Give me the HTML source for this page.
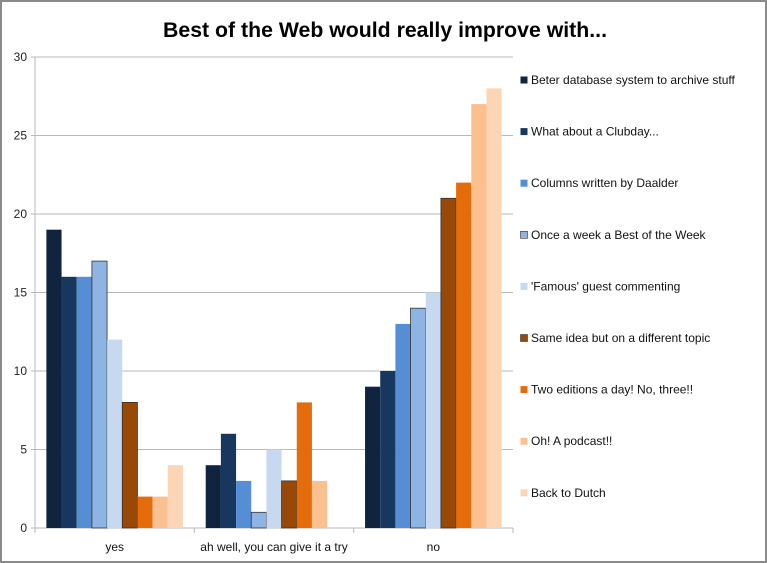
<!DOCTYPE html>
<html><head><meta charset="utf-8"><style>
html,body{margin:0;padding:0;background:#fff}
svg{display:block}
</style></head><body>
<svg id="c" width="767" height="563" xmlns="http://www.w3.org/2000/svg" font-family="Liberation Sans, sans-serif">
<rect x="1" y="1" width="765" height="561" fill="#fff" stroke="#8a8a8a" stroke-width="2"/>
<text x="385" y="37" text-anchor="middle" font-size="21" font-weight="bold" textLength="444" lengthAdjust="spacingAndGlyphs">Best of the Web would really improve with...</text>
<g id="grid"></g>
<g id="bars"></g>
<g id="leg"></g>
</svg>
<script>
var NS="http://www.w3.org/2000/svg";
function el(p,t,a,txt){var e=document.createElementNS(NS,t);for(var k in a)e.setAttribute(k,a[k]);if(txt!=null)e.textContent=txt;p.appendChild(e);return e;}
var g=document.getElementById('grid'),b=document.getElementById('bars'),l=document.getElementById('leg');
var x0=35,x1=513,y0=528,sc=15.7;
for(var v=0;v<=30;v+=5){var y=y0-v*sc;
 if(v>0)el(g,'line',{x1:x0-4,x2:x1,y1:y,y2:y,stroke:'#b8b8b8','stroke-width':1});
 el(g,'text',{x:27,y:y+4,'text-anchor':'end','font-size':12,fill:'#222'},String(v));}
el(g,'line',{x1:x0,x2:x0,y1:57,y2:y0,stroke:'#b8b8b8'});
el(g,'line',{x1:x0-4,x2:x1,y1:y0,y2:y0,stroke:'#b8b8b8'});
var gw=(x1-x0)/3;
for(var i=0;i<=3;i++)el(g,'line',{x1:x0+gw*i,x2:x0+gw*i,y1:y0,y2:y0+5,stroke:'#b8b8b8'});
var cats=['yes','ah well, you can give it a try','no'];
var data=[[19,16,16,17,12,8,2,2,4],[4,6,3,1,5,3,8,3,0],[9,10,13,14,15,21,22,27,28]];
var cols=['#10243f','#17375e','#558ed5','#8eb4e3','#c6d9f1','#984807','#e46c0a','#fac090','#fcd5b5'];
var names=['Beter database system to archive stuff','What about a Clubday...','Columns written by Daalder','Once a week a Best of the Week',"'Famous' guest commenting",'Same idea but on a different topic','Two editions a day! No, three!!','Oh! A podcast!!','Back to Dutch'];
var bw=gw/10.5;
for(var c=0;c<3;c++){
 var gx=x0+gw*c+bw*0.75;
 for(var s=0;s<9;s++){var v=data[c][s];if(!v)continue;var h=v*sc;
  var a={x:gx+s*bw,y:y0-h,width:bw,height:h,fill:cols[s]};
  if(s==3||s==5){a.stroke='#333';a['stroke-width']=0.8;}
  el(b,'rect',a);}
 el(g,'text',{x:x0+gw*c+gw/2,y:551,'text-anchor':'middle','font-size':12,fill:'#111'},cats[c]);
}
for(var s=0;s<9;s++){var y=80+s*51.6;
 el(l,'rect',{x:520.5,y:y-3.5,width:7,height:7,fill:cols[s],stroke:(s==3||s==5)?'#333':'none','stroke-width':0.6});
 el(l,'text',{x:531,y:y+4,'font-size':12,fill:'#111'},names[s]);}
</script>
</body></html>
